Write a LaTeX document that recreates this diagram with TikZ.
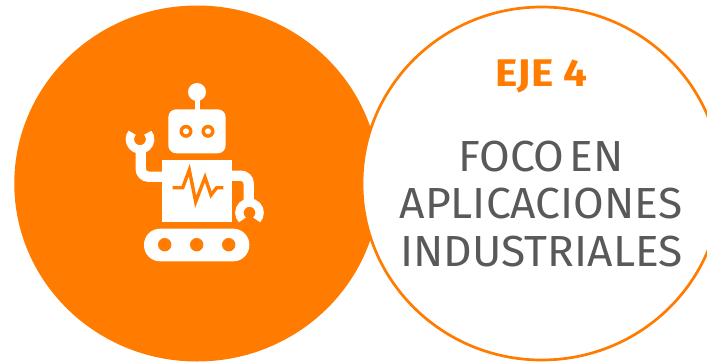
\documentclass[tikz,border=0pt]{standalone}
\usepackage{fontspec}
\setmainfont{Fira Sans}
\definecolor{ejeorange}{HTML}{FF7C00}
\definecolor{ejegray}{HTML}{595959}
\tikzset{
  robotpart/.style={fill=white,draw=none},
  robotarm/.style={draw=white,line width=10.4pt,rounded corners=8pt},
  robotclaw/.style={draw=white,line width=8.3pt},
  title/.style={anchor=base,inner sep=0pt,text=ejegray,xscale=1.02,font=\fontsize{43.5}{48}\selectfont},
}
\begin{document}
\begin{tikzpicture}[x=1pt,y=-1pt]
    \useasboundingbox (0,0) rectangle (707,362);
    \clip (0,0) rectangle (707,362);
    \fill[ejeorange] (197,183.5) ellipse [x radius=182.7,y radius=178];
    \draw[ejeorange,fill=white,line width=2.7pt] (541.7,183.5) ellipse [x radius=179.7,y radius=176.5];
    % robot
    \fill[robotpart] (197,92) circle (9);
    \fill[robotpart] (194.5,95) rectangle (199.5,112);
    \fill[robotpart,rounded corners=8pt] (168.3,109.3) rectangle (225.7,153.3);
    \foreach \x in {186,208} {
        \fill[ejeorange] (\x,131.3) circle (6.5);
        \fill[white] (\x,131.3) circle (3);
    }
    \draw[robotarm] (163,176.7) -- (140.7,176.7) -- (140.7,148);
    \draw[robotclaw] (140,139.3) ++(320:10.15) arc[start angle=320,end angle=580,radius=10.15];
    \draw[robotarm] (231,175.7) -- (248.7,175.7) -- (248.7,205);
    \draw[robotclaw] (249.5,212.7) ++(135:10.15) arc[start angle=135,end angle=405,radius=10.15];
    \fill[robotpart] (161.7,160) rectangle (232,221.7);
    \draw[ejeorange,line width=3.4pt] (172.7,187.7) -- (182.7,187.7) -- (189.3,170) -- (195.7,201.7)
        -- (205,177.3) -- (211,195) -- (216.7,187.7) -- (223.3,187.7);
    \fill[robotpart,rounded corners=16pt] (144,228.7) rectangle (249.3,261.3);
    \foreach \x in {164.7,196.7,228.7} {
        \fill[ejeorange] (\x,244.7) circle (6.7);
    }
    % text
    \node[anchor=base,inner sep=0pt,text=ejeorange,xscale=1.1,font=\fontsize{38.5}{40}\selectfont\bfseries] (eje) at (541.5,86) {EJE 4};
    \node[title] (foco) at (541,171) {FOCO\hspace{5pt}EN};
    \node[title] (aplicaciones) at (541,218.3) {APLICACIONES};
    \node[title] (industriales) at (541.5,266.7) {INDUSTRIALES};
\end{tikzpicture}
\end{document}
